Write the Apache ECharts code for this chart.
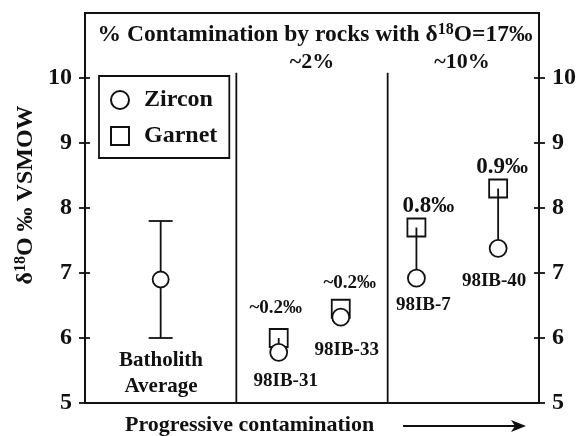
<!DOCTYPE html>
<html><head><meta charset="utf-8">
<script src="https://cdn.jsdelivr.net/npm/echarts@6/dist/echarts.min.js"></script>
<style>html,body{margin:0;padding:0;background:#fff}#c{width:580px;height:436px}</style>
</head><body><div id="c"></div>
<script>
// ---- data ----
const samples = ['98IB-31', '98IB-33', '98IB-7', '98IB-40'];
const sampleX = [1.28, 1.69, 2.19, 2.73];
const zircon = [5.78, 6.32, 6.92, 7.38];
const garnet = [6.0, 6.45, 7.7, 8.3];
const diffLabels = ['~0.2‰', '~0.2‰', '0.8‰', '0.9‰'];
const batholithX = [0.5];
const batholithMean = [6.9];
const batholithLow = [6.0];
const batholithHigh = [7.8];
const groupLabels = ['~2%', '~10%'];
const dividerX = [1, 2];
const dividerTop = [10.08];
const yTicks = [5, 6, 7, 8, 9, 10];

// ---- styling ----
const FONT = 'Liberation Serif';
const INK = '#111';
const LW = 1.8;
const nameOffsets = [[7, 29], [6, 33], [7, 27], [-4, 33]];
const diffOffsets = [[-3, -30], [9, -26], [12, -21], [4, -21]];
const diffSizes = [19, 19, 23, 23];
const lbl = (text, off, size) => ({
  show: true, formatter: text, position: 'inside', offset: off,
  fontSize: size, fontFamily: FONT, fontWeight: 'bold', color: INK, textBorderWidth: 0
});

const zirconData = samples.map((s, i) => ({
  value: [sampleX[i], zircon[i]], label: lbl(s, nameOffsets[i], 19)
}));
zirconData.push({ value: [batholithX[0], batholithMean[0]], symbolSize: 16, label: { show: false } });
const garnetData = samples.map((s, i) => ({
  value: [sampleX[i], garnet[i]], label: lbl(diffLabels[i], diffOffsets[i], diffSizes[i])
}));

function yAxisDef(pos, inside, labels) {
  return {
    type: 'value', position: pos, min: 5, max: 11, interval: 1,
    axisLine: { show: true, lineStyle: { color: INK, width: LW } },
    axisTick: { show: true, inside: inside, length: inside ? 5 : 6, customValues: yTicks, lineStyle: { color: INK, width: LW } },
    axisLabel: { show: labels, customValues: yTicks, margin: 13, fontFamily: FONT, fontWeight: 'bold', fontSize: 24, color: INK },
    splitLine: { show: false }
  };
}

const txt = (x, y, text, size, extra) => ({
  type: 'text', x: x, y: y, z: 10,
  style: Object.assign({ text: text, fontFamily: FONT, fontWeight: 'bold', fontSize: size, fill: INK, align: 'center', verticalAlign: 'middle' }, extra || {})
});

const supRich = (size) => ({
  m: { fontFamily: FONT, fontWeight: 'bold', fontSize: size, fill: INK, color: INK },
  s: { fontFamily: FONT, fontWeight: 'bold', fontSize: Math.round(size * 0.68), fill: INK, color: INK, padding: [0, 0, Math.round(size * 0.45), 0] }
});

const option = {
  animation: false,
  backgroundColor: '#fff',
  textStyle: { fontFamily: FONT, fontWeight: 'bold', color: INK },
  grid: { left: 85, right: 41, top: 13, bottom: 33, show: true, borderColor: INK, borderWidth: LW, backgroundColor: 'transparent' },
  xAxis: { type: 'value', min: 0, max: 3, axisLine: { show: false }, axisTick: { show: false }, axisLabel: { show: false }, splitLine: { show: false } },
  yAxis: [yAxisDef('left', false, true), yAxisDef('left', true, false), yAxisDef('right', false, true), yAxisDef('right', true, false)],
  legend: {
    left: 99, top: 76, orient: 'vertical',
    data: ['Zircon', 'Garnet'],
    borderColor: INK, borderWidth: LW, borderRadius: 0,
    padding: [12, 12, 10, 11], itemGap: 12, itemWidth: 18, itemHeight: 18,
    textStyle: { fontFamily: FONT, fontWeight: 'bold', fontSize: 24, color: INK, padding: [0, 0, 0, 10] }
  },
  series: [
    {
      type: 'line', name: 'div1', data: [[dividerX[0], 5], [dividerX[0], dividerTop[0]]], symbol: 'none',
      lineStyle: { color: INK, width: LW }, z: 1, silent: true
    },
    {
      type: 'line', name: 'div2', data: [[dividerX[1], 5], [dividerX[1], dividerTop[0]]], symbol: 'none',
      lineStyle: { color: INK, width: LW }, z: 1, silent: true
    },
    {
      type: 'custom', name: 'errbar', z: 2,
      data: batholithX.map((x, i) => [x, batholithLow[i], batholithHigh[i]]),
      renderItem: function (params, api) {
        const x = api.value(0);
        const lo = api.coord([x, api.value(1)]);
        const hi = api.coord([x, api.value(2)]);
        const w = 12, st = { stroke: INK, lineWidth: LW };
        return {
          type: 'group', children: [
            { type: 'line', shape: { x1: lo[0], y1: lo[1], x2: hi[0], y2: hi[1] }, style: st },
            { type: 'line', shape: { x1: lo[0] - w, y1: lo[1], x2: lo[0] + w, y2: lo[1] }, style: st },
            { type: 'line', shape: { x1: hi[0] - w, y1: hi[1], x2: hi[0] + w, y2: hi[1] }, style: st }
          ]
        };
      }
    },
    {
      type: 'scatter', name: 'Garnet', symbol: 'rect', symbolSize: 18, z: 3,
      itemStyle: { color: '#fff', borderColor: INK, borderWidth: LW, opacity: 1 },
      data: garnetData
    },
    {
      type: 'custom', name: 'tie', z: 4,
      data: samples.map((s, i) => [sampleX[i], garnet[i], zircon[i]]),
      renderItem: function (params, api) {
        const x = api.value(0);
        const a = api.coord([x, api.value(1)]);
        const b = api.coord([x, api.value(2)]);
        return { type: 'line', shape: { x1: a[0], y1: a[1], x2: b[0], y2: b[1] }, style: { stroke: INK, lineWidth: LW } };
      }
    },
    {
      type: 'scatter', name: 'Zircon', symbol: 'circle', symbolSize: 17, z: 5,
      itemStyle: { color: '#fff', borderColor: INK, borderWidth: LW, opacity: 1 },
      data: zirconData
    }
  ],
  graphic: [
    {
      type: 'text', x: 315, y: 35, z: 10,
      style: { text: '{m|% Contamination by rocks with δ}{s|18}{m|O=17‰}', rich: supRich(23.5), align: 'center', verticalAlign: 'middle' }
    },
    txt(312, 62, groupLabels[0], 22),
    txt(462, 62, groupLabels[1], 22),
    {
      type: 'text', x: 26, y: 195, rotation: Math.PI / 2, z: 10,
      style: { text: '{m|δ}{s|18}{m|O ‰ VSMOW}', rich: supRich(24), align: 'center', verticalAlign: 'middle' }
    },
    txt(161, 374, 'Batholith\nAverage', 21, { lineHeight: 26 }),
    txt(125, 425, 'Progressive contamination', 22, { align: 'left' }),
    { type: 'line', z: 10, shape: { x1: 403, y1: 426, x2: 516, y2: 426 }, style: { stroke: INK, lineWidth: LW } },
    { type: 'polygon', z: 10, shape: { points: [[526, 426], [511, 420], [515, 426], [511, 432]] }, style: { fill: INK } }
  ]
};

const chart = echarts.init(document.getElementById('c'), null, { renderer: 'canvas' });
chart.setOption(option);
</script>
</body></html>
